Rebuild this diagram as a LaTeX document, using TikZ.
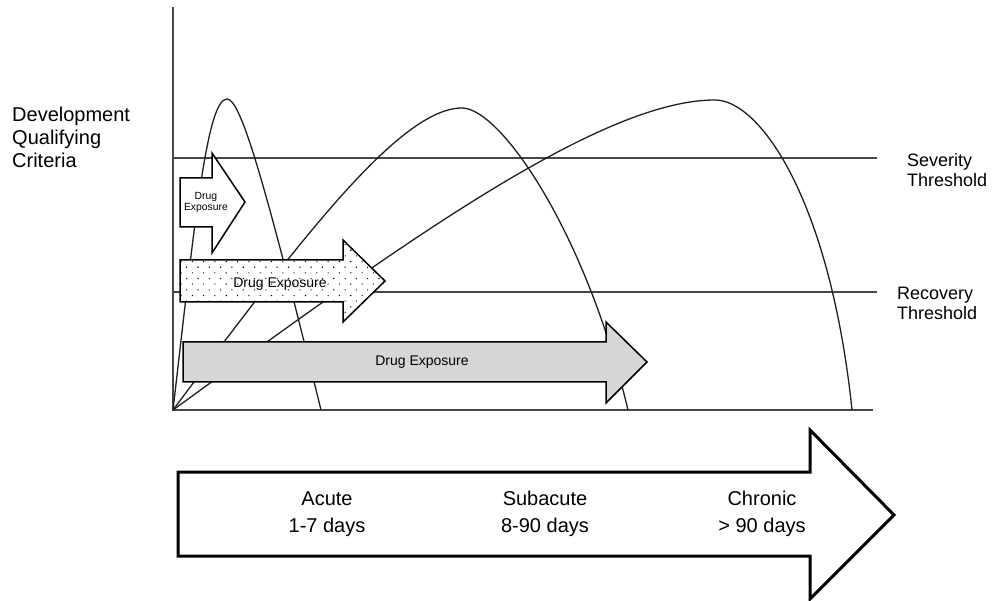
\documentclass[tikz,border=0pt]{standalone}
\usepackage{fontspec}
\setmainfont{Liberation Sans}
\usepackage{tikz}
\usetikzlibrary{positioning}
\usetikzlibrary{calc,patterns.meta}
\colorlet{axiscol}{black!72}
\colorlet{exposurecol}{black!16}
\tikzstyle{axisline}=[axiscol,line width=1.3pt]
\tikzset{
  curve/.style={black!88,line width=1.3pt},
  exposure/.style={draw=black,line width=1.5pt,line join=miter},
  sidelabel/.style={inner sep=0pt,align=left,font=\fontsize{18}{20}\selectfont},
  phaselabel/.style={inner sep=0pt,align=center,font=\fontsize{20}{27}\selectfont}
}

\begin{document}
\begin{tikzpicture}[x=1pt,y=-1pt]
    \useasboundingbox (0,0) rectangle (993,601);
    \coordinate (origin) at (173,410);

    % axes and the two threshold lines
    \draw[axisline] (173,7) -- (origin) -- (873,410);
    \draw[axisline] (173,158) -- (877,158);
    \draw[axisline] (173,292) -- (877,292);

    % response curves, all starting at the origin
    \draw[curve] (origin) .. controls (195,220) and (207,99) .. (227,99)
      .. controls (240,99) and (262,170) .. (321,410);
    \draw[curve] (origin) .. controls (300,240) and (400,108) .. (462,108)
      .. controls (500,108) and (585,230) .. (628,410);
    \draw[curve] (origin) .. controls (400,245) and (600,100) .. (715,100)
      .. controls (760,100) and (830,200) .. (852,410);

    % 1. short exposure
    \draw[exposure,fill=white] (180,178) -- (212,178) -- (212,153) -- (245,202)
      -- (212,253) -- (212,227) -- (180,227) -- cycle;
    \node[align=center,inner sep=0pt,font=\fontsize{10.4}{11}\selectfont] (shortexp) at (206,203) {Drug\\Exposure};

    % 2. dotted exposure
    \draw[exposure,preaction={fill=white},pattern={Dots[angle=45,distance=8pt,radius=0.75pt]}]
      (180,260) -- (343,260) -- (343,240) -- (385,281) -- (343,322) -- (343,302) -- (180,302) -- cycle;
    \node[inner sep=1pt,fill=white,fill opacity=0,text opacity=1,font=\fontsize{14}{16}\selectfont] (dotexp) at (280,284) {Drug Exposure};

    % 3. long exposure
    \draw[exposure,fill=exposurecol] (183,342) -- (606,342) -- (606,322) -- (647,362)
      -- (606,403) -- (606,382) -- (183,382) -- cycle;
    \node[font=\fontsize{14}{16}\selectfont] (longexp) at (422,362) {Drug Exposure};

    % labels
    \node[inner sep=0pt,align=left,anchor=west,font=\fontsize{20}{23}\selectfont] (criteria) at (12,137) {Development\\Qualifying\\Criteria};
    \node[sidelabel,anchor=west] (severity) at (907,170) {Severity\\Threshold};
    \node[sidelabel,anchor=west] (recovery) at (897,303) {Recovery\\Threshold};

    % time line arrow
    \draw[draw=black,fill=white,line width=3pt,line join=miter] (178,472) -- (810,472) -- (810,430)
      -- (894,515) -- (810,599) -- (810,556) -- (178,556) -- cycle;
    \foreach \x/\name/\days [count=\i] in {327/Acute/1-7 days,545/Subacute/8-90 days,762/Chronic/> 90 days}
      \node[phaselabel] (phase\i) at (\x,514) {\name\\\days};
\end{tikzpicture}
\end{document}
